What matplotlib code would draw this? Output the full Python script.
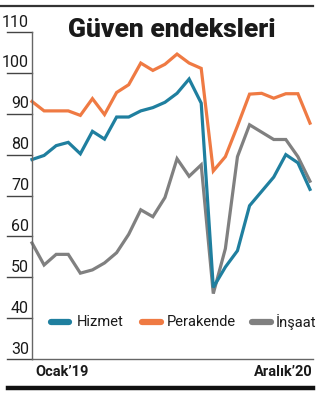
import matplotlib
matplotlib.use("Agg")
import matplotlib.pyplot as plt
from matplotlib.lines import Line2D
import matplotlib.transforms as mtransforms

plt.rcParams['font.family'] = ['Roboto', 'DejaVu Sans']

months = list(range(24))
hizmet = [78.8, 79.8, 82.2, 83.0, 80.2, 85.7, 83.8, 89.2, 89.2, 90.7, 91.5, 92.8, 95.0, 98.5, 92.6,
          47.5, 52.5, 56.5, 67.5, 71.0, 74.5, 80.0, 78.0, 71.5]
perakende = [93.0, 90.7, 90.7, 90.7, 89.6, 93.7, 89.8, 95.2, 97.1, 102.4, 100.6, 102.1, 104.6, 102.4, 101.1,
             76.0, 79.5, 87.0, 94.8, 95.0, 93.8, 94.9, 94.9, 87.7]
insaat = [58.4, 53.0, 55.6, 55.6, 51.0, 51.8, 53.5, 56.0, 60.5, 66.5, 64.8, 69.5, 79.0, 74.7, 77.5,
          46.0, 57.0, 79.5, 87.3, 85.5, 83.7, 83.7, 79.5, 73.5]
series_names = ['Hizmet', 'Perakende', 'İnşaat']
yticks = [30, 40, 50, 60, 70, 80, 90, 100, 110]
xlabels = ["Ocak’19", "Aralık’20"]
title = "Güven endeksleri"

colors = ['#1f7f9f', '#ef7a43', '#808080']
W, H = 322, 400
fig = plt.figure(figsize=(W / 100, H / 100), dpi=100)
fig.patch.set_facecolor('white')

x0, x1 = 32, 313
y0, y1 = 359, 32
ax = fig.add_axes([x0 / W, 1 - y0 / H, (x1 - x0) / W, (y0 - y1) / H])
ax.set_xlim(0, 23.25)
ax.set_ylim(30, 110)
for s in ['top', 'right']:
    ax.spines[s].set_visible(False)
for s in ['left', 'bottom']:
    ax.spines[s].set_color('#666666')
    ax.spines[s].set_linewidth(1.0)
ax.set_xticks([])
ax.set_yticks([])
ax.patch.set_alpha(0)

for vals, c in zip([insaat, hizmet, perakende], [colors[2], colors[0], colors[1]]):
    ax.plot(months, vals, color=c, lw=2.3, solid_joinstyle='miter', clip_on=False)

# y tick marks and labels
trans = mtransforms.blended_transform_factory(fig.transFigure, ax.transData)
for v in yticks:
    ax.add_line(Line2D([7 / W, x0 / W], [v, v], transform=trans, color='#444444', lw=1.0, clip_on=False))
    ax.text(29 / W, v + 0.6, str(v), transform=trans, ha='right', va='bottom',
            fontsize=11.5, color='#1a1a1a', clip_on=False)

# x labels
fig.text(35 / W, 1 - 372 / H, xlabels[0], ha='left', va='center', fontsize=10.5,
         fontweight='bold', color='#1a1a1a')
fig.text(313 / W, 1 - 372 / H, xlabels[1], ha='right', va='center', fontsize=10.5,
         fontweight='bold', color='#1a1a1a')

# title
fig.text(172 / W, 1 - 30 / H, title, ha='center', va='center', fontsize=19,
         fontweight='black', color='#1a1a1a')

# legend
leg_y = 1 - 322 / H
for (lx0, lx1, tx), name, c in zip([(51, 69, 77), (142, 161, 167), (252, 271, 276)], series_names, colors):
    fig.add_artist(Line2D([lx0 / W, lx1 / W], [leg_y, leg_y], color=c, lw=4.5,
                          solid_capstyle='round', transform=fig.transFigure))
    fig.text(tx / W, leg_y, name, ha='left', va='center', fontsize=10.5, color='#1a1a1a')

# top and bottom rules
fig.add_artist(Line2D([0, 313 / W], [1 - 6 / H, 1 - 6 / H], color='#333333', lw=1.6, transform=fig.transFigure))
fig.add_artist(Line2D([8 / W, 313 / W], [1 - 388 / H, 1 - 388 / H], color='#111111', lw=3.2, transform=fig.transFigure))

fig.savefig('out.png', dpi=100, facecolor='white')
